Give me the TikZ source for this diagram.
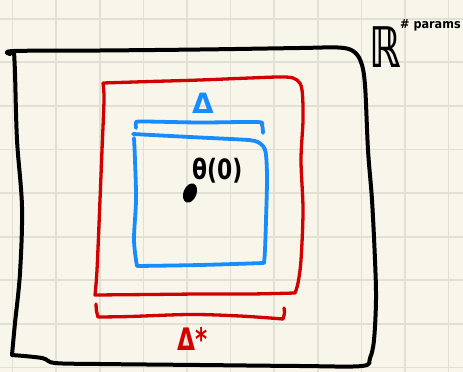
\documentclass[tikz,border=0pt]{standalone}
\usepackage{fontspec}
\setmainfont{DejaVu Sans}
\definecolor{paper}{HTML}{F8F6EA}
\definecolor{gridline}{HTML}{E2E0D2}
\definecolor{inkred}{HTML}{D20000}
\definecolor{inkblue}{HTML}{168CFF}
\begin{document}
\begin{tikzpicture}[x=1pt,y=-1pt,line cap=round,line join=round,
  gridrule/.style={draw=gridline,line width=1.7pt},
  blackink/.style={draw=black,line width=4pt},
  redink/.style={draw=inkred,line width=3.3pt},
  blueink/.style={draw=inkblue,line width=3.8pt},
  hand/.style={inner sep=0pt,font=\bfseries}]
% paper and its squares
\useasboundingbox (0,0) rectangle (463,372);
\fill[paper] (0,0) rectangle (463,372);
\foreach \i in {0,...,10} \draw[gridrule] ({12.6+43.6*\i},0) -- ++(0,372);
\foreach \j in {0,...,8} \draw[gridrule] (0,{18.7+43.6*\j}) -- ++(463,0);

% the whole parameter space
\draw[blackink]
  plot[smooth,tension=0.55] coordinates {(10,54) (14,51) (100,50.5) (200,49.5) (300,48) (338,47.5) (353,51) (361,62) (365,85) (368,150) (372,200) (375,260) (376,300) (374,340) (370,358) (362,366) (300,366) (200,365) (100,364) (55,363) (42,358) (12,355)}
  -- plot[smooth,tension=0.55] coordinates {(12,355) (15,323) (20,273) (22,207) (17,140) (15,73) (14,52)};

% outer red region
\draw[redink]
  plot[smooth,tension=0.55] coordinates {(103,83) (150,81.5) (200,80) (250,78) (285,77) (297,80) (302,90) (303,120) (301,160) (303,210) (301,260) (298,283) (295,293)}
  -- plot[smooth,tension=0.55] coordinates {(295,293) (250,294) (200,294) (150,294.5) (95,295)}
  -- plot[smooth,tension=0.55] coordinates {(95,295) (97,270) (100,200) (102,150) (104,100) (103,83)};
% red width brace
\draw[redink]
  plot[smooth,tension=0.5] coordinates {(96,304) (96.5,311) (98,317)}
  -- plot[smooth,tension=0.55] coordinates {(98,317) (130,316.5) (190,314.5) (240,316) (283,319)}
  -- plot[smooth,tension=0.5] coordinates {(283,319) (284.5,313) (284,308)};

% inner blue region
\draw[blueink]
  plot[smooth,tension=0.55] coordinates {(133,134) (190,137) (240,139.5) (255,141) (263,146) (266,155) (267,180) (266,220) (265,250) (264,263)}
  -- plot[smooth,tension=0.55] coordinates {(264,263) (200,265) (137,266)}
  -- plot[smooth,tension=0.55] coordinates {(137,266) (134,240) (136,200) (135,160) (134,138)};
% blue width brace
\draw[blueink]
  plot[smooth,tension=0.5] coordinates {(136,128) (136,123) (142,121.5) (200,122.5) (257,122) (262,125) (263,133)};

% starting point
\fill[rotate around={-22:(190,193)}] (190,193) ellipse (6.5 and 10);

% labels
\node[hand,text=inkblue,font=\bfseries\fontsize{28}{28}\selectfont] (delta) at (203,103) {Δ};
\node[hand,text=inkred,anchor=base west,xscale=0.75,font=\bfseries\fontsize{31}{31}\selectfont] (deltastar) at (177,350) {Δ*};
\node[hand,anchor=base west,xscale=0.78,font=\bfseries\fontsize{28}{28}\selectfont] (theta) at (192,179) {θ(0)};
\node[hand,anchor=base west,xscale=0.7,font=\bfseries\fontsize{56}{56}\selectfont] (reals) at (369,67) {ℝ};
\node[hand,anchor=base west,xscale=0.9,font=\bfseries\fontsize{12.5}{12.5}\selectfont] (params) at (400,28) {\# params};
\end{tikzpicture}
\end{document}
